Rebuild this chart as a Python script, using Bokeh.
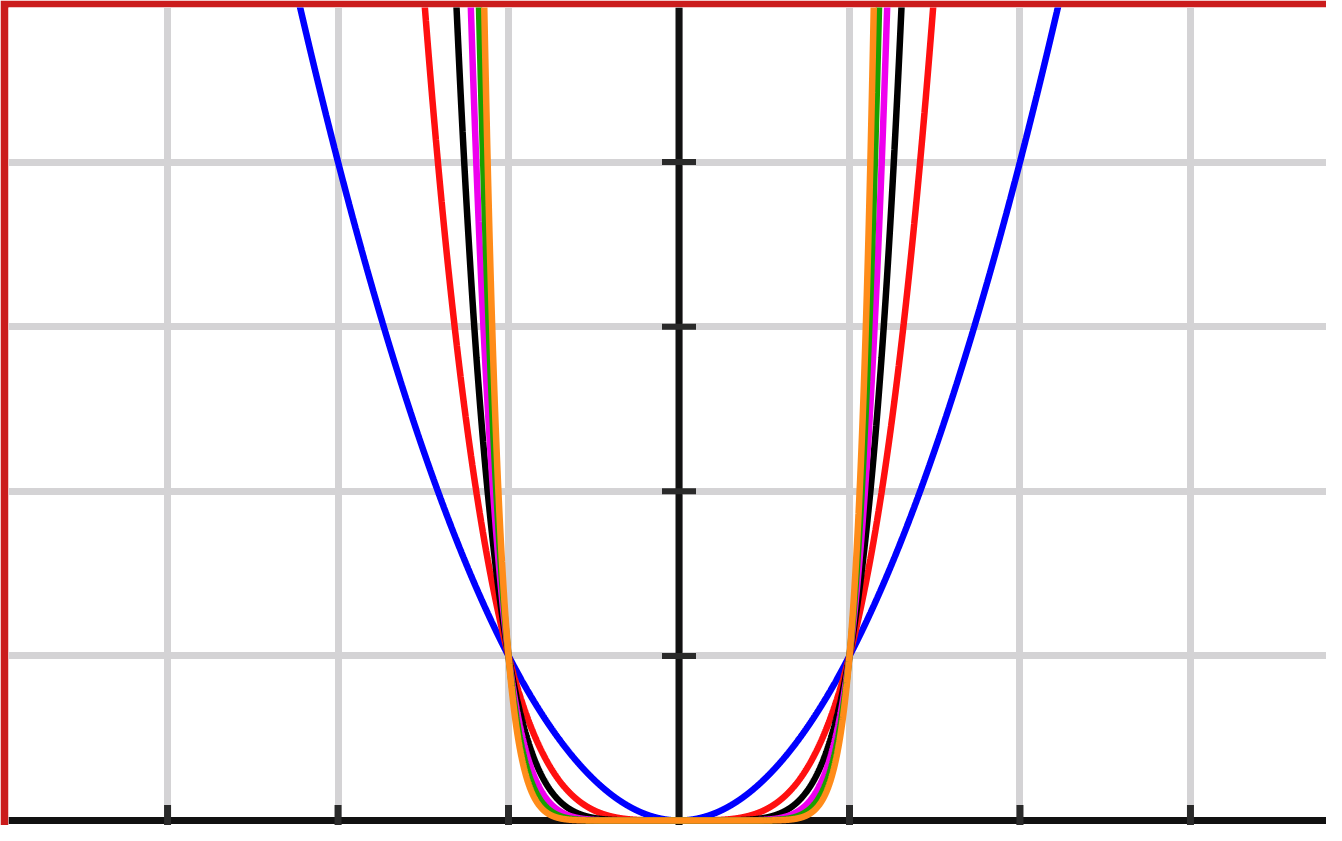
import numpy as np
from bokeh.plotting import figure
from bokeh.models import Span, FixedTicker, Range1d
from bokeh.embed import file_html
from bokeh.resources import INLINE

# Curves y = x**n, exponents (innermost = highest power)
exponents = [2, 4, 6, 8, 10, 12]
colors = ["#0000ff", "#ff1010", "#000000", "#ee00ee", "#1a9f00", "#ff8c1a"]
x_ticks = [-3, -2, -1, 1, 2, 3]
y_ticks = [1, 2, 3, 4]
grid_x = [-3, -2, -1, 0, 1, 2, 3]
grid_y = [1, 2, 3, 4]

W, H = 1326, 825
p = figure(width=W, height=H,
           x_range=Range1d(-3.933, 3.798), y_range=Range1d(-0.0304, 4.939),
           x_axis_location=None, y_axis_location=None,
           toolbar_location=None, output_backend="svg",
           min_border_left=8, min_border_top=7, min_border_right=0, min_border_bottom=0,
           border_fill_color="#cb1c1c", background_fill_color="white",
           outline_line_color=None)

p.xgrid.ticker = FixedTicker(ticks=grid_x)
p.ygrid.ticker = FixedTicker(ticks=grid_y)
p.grid.grid_line_color = "#d4d3d5"
p.grid.grid_line_width = 7

p.add_layout(Span(location=0, dimension="width", line_color="#111111",
                  line_width=7, level="underlay"))
p.add_layout(Span(location=0, dimension="height", line_color="#111111",
                  line_width=7, level="underlay"))

# tick marks on the centred axes
p.scatter(x=[0] * len(y_ticks), y=y_ticks, marker="dash", size=34,
          line_color="#2a2a2a", line_width=6)
p.scatter(x=x_ticks, y=[0] * len(x_ticks), marker="dash", size=31, angle=np.pi / 2,
          line_color="#2a2a2a", line_width=7)

xs = np.linspace(-2.3, 2.3, 4001)
for n, c in zip(exponents, colors):
    p.line(xs, xs ** n, line_color=c, line_width=6.5)

open("out.html", "w").write(file_html(p, INLINE))
